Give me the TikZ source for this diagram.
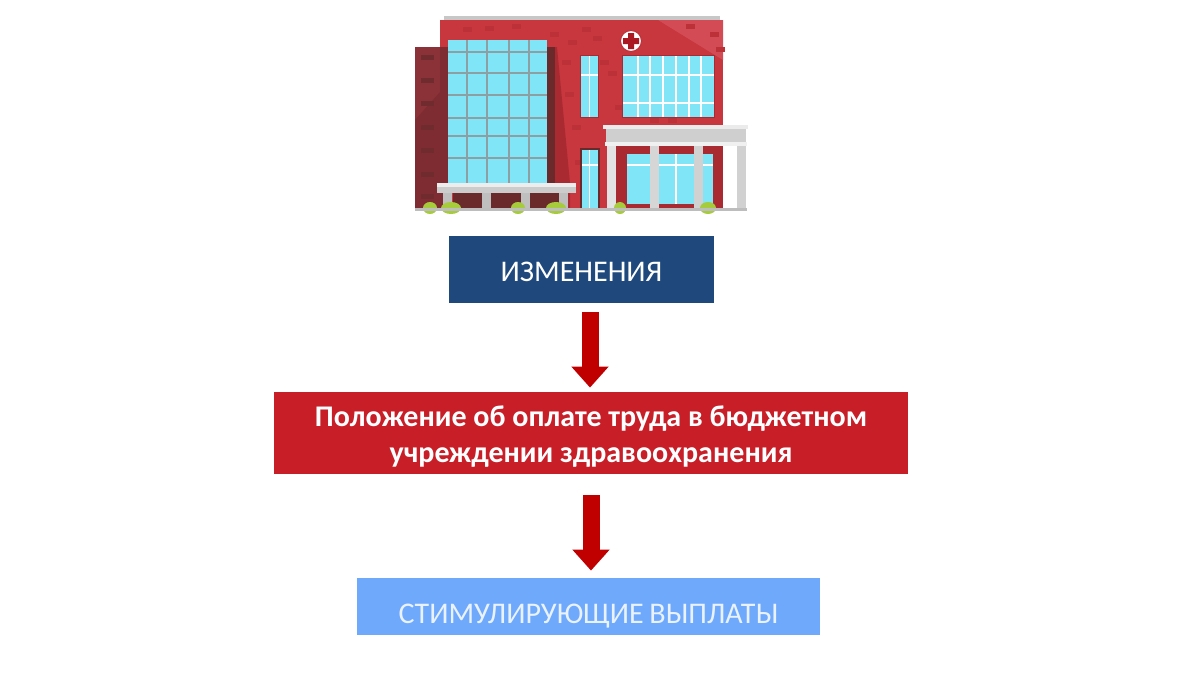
\documentclass[tikz,border=0pt]{standalone}
\usepackage{fontspec}
\setmainfont{Carlito}
\usetikzlibrary{arrows.meta}
\definecolor{wallred}{HTML}{C8363E}
\definecolor{walllight}{HTML}{D34C55}
\definecolor{brickred}{HTML}{BC3038}
\definecolor{wingred}{HTML}{8A3238}
\definecolor{wingdark}{HTML}{7E2C31}
\definecolor{shadowred}{HTML}{6A2A2C}
\definecolor{porchred}{HTML}{A92A31}
\definecolor{glass}{HTML}{80E5F6}
\definecolor{framegrey}{HTML}{8E9FA3}
\definecolor{navybox}{HTML}{1F497D}
\definecolor{redbox}{HTML}{C81E27}
\definecolor{bluebox}{HTML}{6EA9FB}
\definecolor{arrowred}{HTML}{C00000}
\definecolor{bush}{HTML}{A6CC3C}
\tikzset{
	labelbox/.style={inner sep=0pt, align=center, font=\fontsize{15pt}{18.2pt}\selectfont},
	bigarrow/.style={draw=arrowred, line width=8.5pt, -{Triangle[length=10.5pt, width=18pt]}},
}
\begin{document}
\begin{tikzpicture}[x=0.5pt, y=-0.5pt]
	\useasboundingbox (0,0) rectangle (1200,675);
	% building
	\fill [black!22] (444,16) rectangle (720,20);
	\fill [wallred] (440,20) rectangle (723,208);
	\fill [walllight] (658,20)--(723,20)--(723,60)--cycle;
	\foreach \bx/\by in {463/27,485/26,512/24,550/32,568/40,562/60,565/92,572/125,582/27,593/36,600/60,686/24,710/32,716/47,608/71,615/105,650/118,668/118,575/160}
		\fill [brickred] (\bx,\by) rectangle +(9,5);
	\fill [wingred] (415,47) rectangle (440,208);
	\fill [wingdark] (440,47) rectangle (448,208) (415,120)--(440,92)--(440,208)--(415,208)--cycle;
	\foreach \by in {55,78,101,125,148,172,194}
		\fill [shadowred!85!wingred] (421,\by) rectangle +(13,5);
	\fill [porchred] (547,47)--(557,47)--(570,183)--(570,208)--(547,208)--cycle;
	\fill [shadowred] (547,47)--(555,47)--(555,183)--(547,183)--cycle;
	% glass tower
	\fill [glass] (448,40) rectangle (547,183);
	\foreach \wx in {467,487,509,529}
		\draw [framegrey, line width=1.1pt] (\wx,40)--(\wx,183);
	\foreach \wy in {52,73,95,118,136,158}
		\draw [framegrey, line width=1.1pt] (448,\wy)--(547,\wy);
	% canopy
	\fill [shadowred] (453,193) rectangle (562,208);
	\fill [black!20] (437,187) rectangle (576,193);
	\fill [black!7] (437,183) rectangle (576,187);
	\foreach \cx in {443,482,521,559}
		\fill [black!25] (\cx,193) rectangle +(9,15);
	% upper windows
	\fill [porchred] (580,55) rectangle (599,118);
	\fill [glass] (581,56) rectangle (598,117);
	\draw [white, line width=.7pt] (589.5,56)--(589.5,117) (581,75)--(598,75);
	\fill [porchred] (622,55) rectangle (715,118);
	\fill [glass] (623,56) rectangle (714,117);
	\foreach \wx in {638,650,663,676,689,701}
		\draw [white, line width=.7pt] (\wx,56)--(\wx,117);
	\foreach \wy in {75,103}
		\draw [white, line width=.7pt] (623,\wy)--(714,\wy);
	% red cross
	\fill [white, draw=brickred, line width=.5pt] (631,41) circle (10.5);
	\fill [redbox!85!black] (628,33) rectangle (634,49) (623,38) rectangle (639,44);
	% porch
	\fill [porchred] (616,146) rectangle (723,208);
	\fill [glass] (627,154) rectangle (713,204);
	\draw [white, line width=.7pt] (627,165)--(713,165) (676,154)--(676,204);
	\fill [black!19] (606,129) rectangle (746,142);
	\fill [black!8] (603,125) rectangle (748,129);
	\fill [black!6] (605,142) rectangle (747,146);
	\fill [black!11] (607,146) rectangle (616,208);
	\fill [black!16] (650,146) rectangle (659,208);
	\fill [black!18] (694,146) rectangle (703,208);
	\fill [black!18] (737,146) rectangle (746,208);
	% door
	\fill [shadowred] (580,148) rectangle (600,208);
	\fill [glass] (582,150) rectangle (598,208);
	\draw [white, line width=.7pt] (582,165)--(598,165) (589.5,150)--(589.5,208);
	% bushes and ground
	\foreach \sx/\sw in {430/7,451/10,518/7,556/10,620/6,708/8}
		\fill [bush] (\sx,208) ellipse ({\sw} and 6);
	\fill [black!26] (415,208) rectangle (747,211);
	% boxes
	\node [labelbox, fill=navybox, text=white, text height=14pt, text depth=1.8pt, minimum width=132.5pt, minimum height=33.5pt] (changes) at (581.5,269.5) {ИЗМЕНЕНИЯ};
	\node [labelbox, fill=redbox, text=white, font=\fontsize{15pt}{18.2pt}\selectfont\bfseries, minimum width=317pt, minimum height=41pt] (rules) at (591,433) {\rule{0pt}{14pt}Положение об оплате труда в бюджетном\\учреждении здравоохранения};
	\node [labelbox, fill=bluebox, text=white!85!bluebox, text height=18pt, text depth=.8pt, minimum width=231.5pt, minimum height=28.5pt] (bonus) at (588.5,606.5) {СТИМУЛИРУЮЩИЕ\hspace{-.6pt} ВЫПЛАТЫ};
	% arrows
	\coordinate (upper) at (590,340);
	\coordinate (lower) at (591,530);
	\draw [bigarrow, shorten <=4.5pt, shorten >=2pt] (changes.south -| upper)--(rules.north -| upper);
	\draw [bigarrow, shorten <=10.5pt, shorten >=3.5pt] (rules.south -| lower)--(bonus.north -| lower);
\end{tikzpicture}
\end{document}
